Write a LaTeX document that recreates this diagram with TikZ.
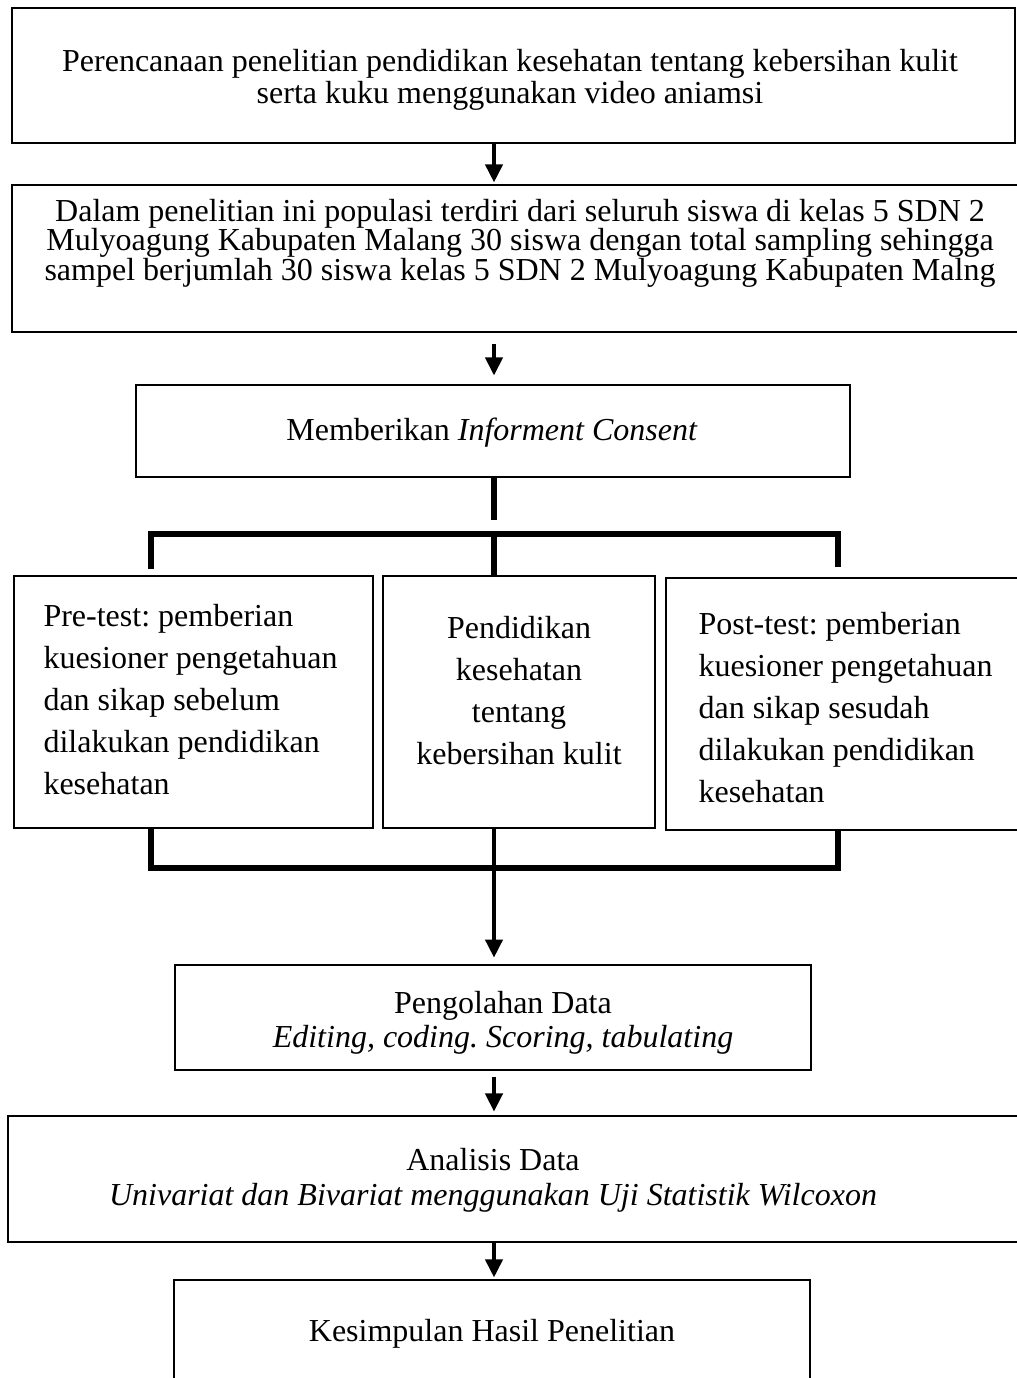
\documentclass[tikz,border=0pt]{standalone}
\usepackage{fontspec}
\setmainfont{Liberation Serif}
\newcommand*{\isifont}{\fontsize{12pt}{14pt}\selectfont\frenchspacing}
\definecolor{garis}{rgb}{0.00,0.00,0.00}
\usetikzlibrary{arrows.meta}
\usetikzlibrary{fit}
\tikzstyle{dasar}=[x=0.375pt, y=-0.375pt, line join=miter]
\tikzstyle{kotak}=[draw=garis, line width=1.1pt, inner sep=0pt]
\tikzstyle{isi}=[inner sep=0pt, align=center, text=garis]
\tikzstyle{panah}=[draw=garis, line width=1.5pt, -{Triangle[width=6.4pt,length=6.8pt]}]
\tikzstyle{kurung}=[draw=garis, line width=2.1pt]

\begin{document}
\begin{tikzpicture}[dasar]
    \isifont
        \useasboundingbox (0,0) rectangle (1016,1378);
        \coordinate (kiri) at (151,0);
        \coordinate (sumbu) at (494,0);
        \coordinate (kanan) at (838,0);
        \coordinate (atas) at (0,534);
        \coordinate (bawah) at (0,868);

        \node [kotak, fit={(12,8) (1015,143)}] (perencanaan) {};
        \node [kotak, fit={(12,185) (1030,332)}] (populasi) {};
        \node [kotak, fit={(136,385) (850,477)}] (informed) {};
        \node [kotak, fit={(14,576) (373,828)}] (pretest) {};
        \node [kotak, fit={(383,576) (655,828)}] (pendidikan) {};
        \node [kotak, fit={(666,578) (1030,830)}] (posttest) {};
        \node [kotak, fit={(175,965) (811,1070)}] (pengolahan) {};
        \node [kotak, fit={(8,1116) (1030,1242)}] (analisis) {};
        \node [kotak, fit={(174,1280) (810,1400)}] (kesimpulan) {};

        \node [isi, font=\fontsize{12pt}{10.9pt}\selectfont] (perencanaan-isi) at (510,80)
            {Perencanaan penelitian pendidikan kesehatan tentang kebersihan kulit\\serta kuku menggunakan video aniamsi};
        \node [isi, font=\fontsize{12pt}{11.1pt}\selectfont] (populasi-isi) at (520,243)
            {Dalam penelitian ini populasi terdiri dari seluruh siswa di kelas 5 SDN 2\\Mulyoagung Kabupaten Malang 30 siswa dengan total sampling sehingga\\sampel berjumlah 30 siswa kelas 5 SDN 2 Mulyoagung Kabupaten Malng};
        \node [isi] (informed-isi) at (492,433) {Memberikan \textit{Informent Consent}};
        \node [isi, align=left, anchor=west, font=\fontsize{12pt}{15.75pt}\selectfont] (pretest-isi) at (43,700)
            {Pre-test: pemberian\\kuesioner pengetahuan\\dan sikap sebelum\\dilakukan pendidikan\\kesehatan};
        \node [isi, font=\fontsize{12pt}{15.75pt}\selectfont] (pendidikan-isi) at (519,691)
            {Pendidikan\\kesehatan\\tentang\\kebersihan kulit};
        \node [isi, align=left, anchor=west, font=\fontsize{12pt}{15.75pt}\selectfont] (posttest-isi) at (698,708)
            {Post-test: pemberian\\kuesioner pengetahuan\\dan sikap sesudah\\dilakukan pendidikan\\kesehatan};
        \node [isi, font=\fontsize{12pt}{12.75pt}\selectfont] (pengolahan-isi) at (503,1023)
            {Pengolahan Data\\\textit{Editing, coding. Scoring, tabulating}};
        \node [isi, font=\fontsize{12pt}{13.1pt}\selectfont] (analisis-isi) at (493,1180)
            {Analisis Data\\\textit{Univariat dan Bivariat menggunakan Uji Statistik Wilcoxon}};
        \node [isi] (kesimpulan-isi) at (492,1334) {Kesimpulan Hasil Penelitian};

        \draw [panah, shorten >=0.4pt] (perencanaan.south -| sumbu) -- (populasi.north -| sumbu);
        \draw [panah, shorten <=4.1pt, shorten >=3pt] (populasi.south -| sumbu) -- (informed.north -| sumbu);
        \draw [kurung, shorten >=5.2pt] (informed.south -| sumbu) -- (atas -| sumbu);
        \draw [kurung, shorten <=1.9pt, shorten >=3.4pt] (pretest.north -| kiri) |- (atas -| sumbu) -| (posttest.north -| kanan);
        \draw [kurung] (atas -| sumbu) -- (pendidikan.north -| sumbu);
        \draw [kurung] (pretest.south -| kiri) |- (bawah -| sumbu) -| (posttest.south -| kanan);
        \draw [panah, shorten >=2.2pt] (pendidikan.south -| sumbu) -- (pengolahan.north -| sumbu);
        \draw [panah, shorten <=1.9pt, shorten >=1.1pt] (pengolahan.south -| sumbu) -- (analisis.north -| sumbu);
        \draw [panah, shorten >=0.4pt] (analisis.south -| sumbu) -- (kesimpulan.north -| sumbu);
    \end{tikzpicture}
\end{document}
